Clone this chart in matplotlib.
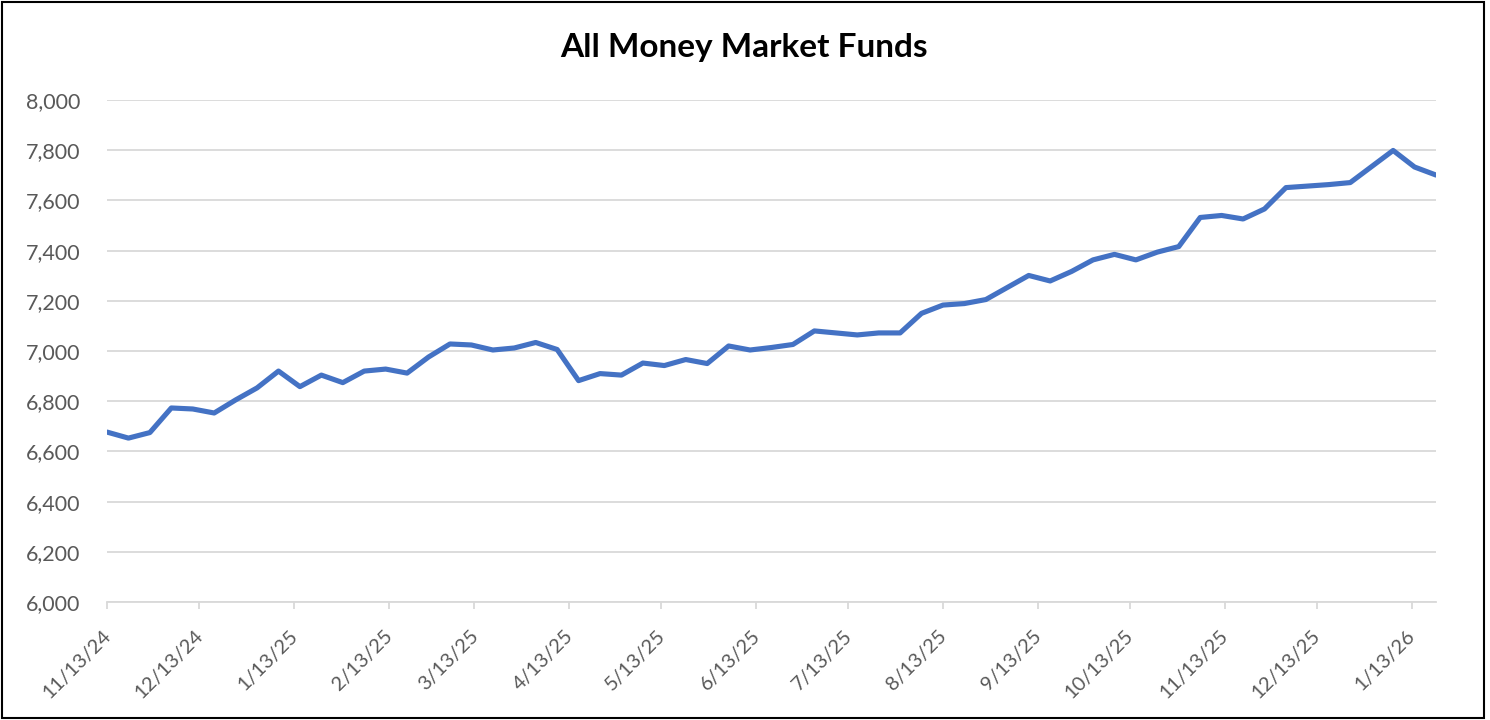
import pandas as pd
import matplotlib
matplotlib.use('Agg')
import matplotlib.pyplot as plt
import matplotlib.dates as mdates
from matplotlib.patches import Rectangle
from matplotlib.transforms import ScaledTranslation

# weekly totals, $ billions
startDate = '2024-11-13'
mmfAssets = [6677, 6653, 6675, 6773, 6769, 6753, 6805, 6853, 6920, 6858,
             6904, 6874, 6920, 6928, 6912, 6976, 7028, 7024, 7004, 7012,
             7034, 7006, 6882, 6910, 6904, 6952, 6942, 6966, 6950, 7020,
             7004, 7014, 7026, 7080, 7072, 7064, 7072, 7072, 7150, 7183,
             7189, 7205, 7253, 7301, 7279, 7317, 7363, 7385, 7363, 7394,
             7416, 7532, 7540, 7526, 7566, 7651, 7657, 7663, 7671, 7735,
             7799, 7733, 7701]
yTicks = [6000, 6200, 6400, 6600, 6800, 7000, 7200, 7400, 7600, 7800, 8000]

dates = pd.date_range(startDate, periods=len(mmfAssets), freq='7D')

plt.rcParams['font.family'] = ['Lato', 'DejaVu Sans']
grey = '#595959'
gridc = '#d9d9d9'

fig = plt.figure(figsize=(14.9, 7.2), dpi=100)
ax = fig.add_axes([107/1490, 1-602/720, (1436-107)/1490, (602-100)/720])

ax.plot(dates, mmfAssets, color='#4472C4', lw=3.7, solid_joinstyle='round', solid_capstyle='round', zorder=3)

ax.set_ylim(6000, 8000)
ax.set_yticks(yTicks)
ax.set_yticklabels(['{:,}'.format(v) for v in yTicks])
ax.set_xlim(dates[0], dates[-1])

ax.xaxis.set_major_locator(mdates.MonthLocator(bymonthday=13))
ax.xaxis.set_major_formatter(plt.FuncFormatter(
    lambda x, pos: '%d/%d/%s' % (mdates.num2date(x).month, mdates.num2date(x).day, mdates.num2date(x).strftime('%y'))))

ax.grid(axis='y', color=gridc, lw=1.3)
ax.set_axisbelow(True)
for s in ['top', 'right', 'left']:
    ax.spines[s].set_visible(False)
ax.spines['bottom'].set_color(gridc)
ax.spines['bottom'].set_linewidth(1.3)

ax.tick_params(axis='y', length=0, pad=19, labelsize=15.5, labelcolor=grey)
ax.tick_params(axis='x', length=5, width=1.3, color=gridc, pad=13, labelsize=14.5, labelcolor=grey)
shift = ScaledTranslation(-5/100, 0, fig.dpi_scale_trans)
for lbl in ax.get_xticklabels():
    lbl.set_rotation(45)
    lbl.set_ha('right')
    lbl.set_va('top')
    lbl.set_rotation_mode('anchor')
    lbl.set_transform(lbl.get_transform() + shift)

fig.text(0.4993, 1-47/720, 'All Money Market Funds', ha='center', va='center',
         fontsize=24, fontweight='bold', color='black')

fig.patches.append(Rectangle((2/1490, 2/720), 1482/1490, 716/720, transform=fig.transFigure,
                             fill=False, edgecolor='black', lw=1.5))

plt.savefig('out.png', dpi=100)
